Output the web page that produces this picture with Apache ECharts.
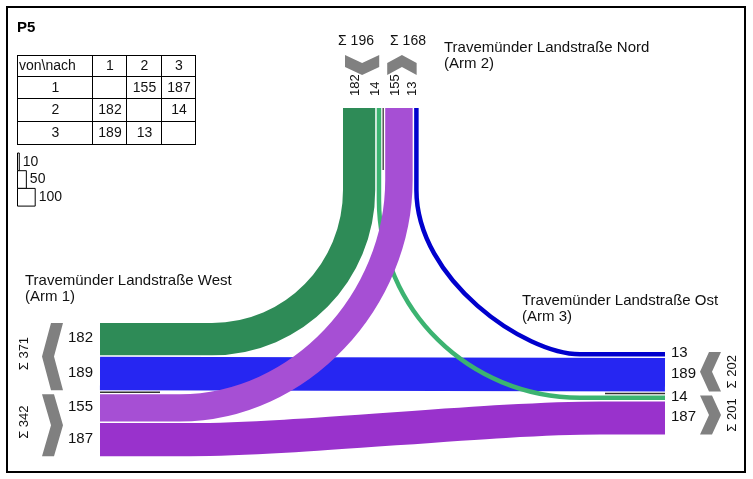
<!DOCTYPE html>
<html><head><meta charset="utf-8">
<script src="https://cdn.jsdelivr.net/npm/echarts@6/dist/echarts.min.js"></script>
<style>html,body{margin:0;padding:0;background:#fff}#c{width:753px;height:479px}</style>
</head><body><div id="c"></div>
<script>
// ---------------- data ----------------
const title = 'P5';
const tableCorner = 'von\\nach';
const armIds = ['1', '2', '3'];
const armNames = ['Travemünder Landstraße West', 'Travemünder Landstraße Nord', 'Travemünder Landstraße Ost'];
const armSubNames = ['(Arm 1)', '(Arm 2)', '(Arm 3)'];
const flowFrom = ['1', '1', '2', '2', '3', '3'];
const flowTo = ['2', '3', '1', '3', '1', '2'];
const flowVolume = [155, 187, 182, 14, 189, 13];
const scaleSteps = [10, 50, 100];

// ---------------- styles / layout ----------------
const FONT = '"Liberation Sans", Arial, sans-serif';
const flowColor = { '1-2': '#a64fd4', '1-3': '#9932cc', '2-1': '#2e8b57', '2-3': '#3cb371', '3-1': '#2626f2', '3-2': '#0000cd' };
const drawOrder = ['3-1', '2-3', '1-2', '2-1', '3-2', '1-3'];
const K = 0.177, MINW = 4.5, GAP_IN = 1.5, GAP_GRP = 4;
const WX = 100, NY = 108, EX = 665;
const arms = {
  '1': { side: 'W', pos: WX, start: 323, groups: [{ kind: 'to', others: ['2', '3'] }, { kind: 'from', others: ['2', '3'] }], name: [25, 281] },
  '2': { side: 'N', pos: NY, start: 343, groups: [{ kind: 'from', others: ['1', '3'] }, { kind: 'to', others: ['1', '3'] }], name: [444, 48] },
  '3': { side: 'E', pos: EX, start: 352, groups: [{ kind: 'from', others: ['2', '1'] }, { kind: 'to', others: ['2', '1'] }], name: [522, 301] }
};
const routes = {
  '2-1': (n, w) => [['M', [n, NY]], ['L', [n, 190]], ['C', [n, 272], [294, w], [212, w]], ['L', [WX, w]]],
  '2-3': (n, e) => [['M', [n, NY]], ['L', [n, 200]], ['C', [n, 309], [469, e], [580, e]], ['L', [EX, e]]],
  '1-2': (w, n) => [['M', [WX, w]], ['L', [180, w]], ['C', [300, w], [n, 300], [n, 180]], ['L', [n, NY]]],
  '3-2': (e, n) => [['M', [EX, e]], ['L', [580, e]], ['C', [525, e], [n, 280], [n, 190]], ['L', [n, NY]]],
  '3-1': (e, w) => [['M', [EX, e]], ['L', [WX, w]]],
  '1-3': (w, e) => [['M', [WX, w]], ['L', [190, w]], ['C', [300, w], [490, e], [600, e]], ['L', [EX, e]]]
};

function vol(f, t) {
  for (let i = 0; i < flowFrom.length; i++) if (flowFrom[i] === f && flowTo[i] === t) return flowVolume[i];
  return null;
}
const bandW = v => Math.max(v * K, MINW);

// band positions per arm
const bandCenter = {};
const groupInfo = [];
armIds.forEach(id => {
  const A = arms[id];
  let p = A.start;
  A.groups.forEach((g, gi) => {
    if (gi > 0) p += GAP_GRP;
    const a = p, bands = [];
    let sum = 0;
    g.others.forEach((o, oi) => {
      if (oi > 0) p += GAP_IN;
      const f = g.kind === 'to' ? o : id, t = g.kind === 'to' ? id : o;
      const v = vol(f, t), w = bandW(v);
      bands.push({ v, c: p + w / 2 });
      bandCenter[id + '|' + f + '-' + t] = p + w / 2;
      p += w; sum += v;
    });
    groupInfo.push({ arm: id, gi, kind: g.kind, a, b: p, sum, bands, sumPos: (a + p) / 2 });
  });
});
// spread north sums so they do not collide
(function () {
  const ng = groupInfo.filter(g => arms[g.arm].side === 'N');
  const mid = (ng[0].sumPos + ng[1].sumPos) / 2, d = Math.max(52, ng[1].sumPos - ng[0].sumPos);
  ng[0].sumPos = mid - d / 2; ng[1].sumPos = mid + d / 2;
})();

function renderFlow(params, api) {
  const i = api.value(0);
  const key = flowFrom[i] + '-' + flowTo[i];
  const s = bandCenter[flowFrom[i] + '|' + key];
  const e = bandCenter[flowTo[i] + '|' + key];
  let d = '';
  routes[key](s, e).forEach(seg => {
    d += seg[0] + seg.slice(1).map(p => api.coord(p).join(' ')).join(' ') + ' ';
  });
  const w = api.size([bandW(flowVolume[i]), 0])[0];
  return { type: 'path', shape: { pathData: d }, style: { fill: 'none', stroke: flowColor[key], lineWidth: w, lineCap: 'butt', lineJoin: 'round' } };
}

function txt(x, y, text, size, align, rot, extra) {
  return Object.assign({ type: 'text', x, y, rotation: rot || 0,
    style: { text: String(text), fill: '#111', fontSize: size, fontFamily: FONT, align: align || 'left', verticalAlign: 'middle' } }, extra || {});
}

function renderGroup(params, api) {
  const g = groupInfo[api.value(0)];
  const A = arms[g.arm];
  const ch = [];
  const pointOut = g.kind === 'to';
  const T = 12;
  let pts;
  if (A.side === 'W' || A.side === 'E') {
    const xl = A.side === 'W' ? A.pos - 58 : A.pos + 35, xr = xl + 21;
    const ya = g.a, yb = g.b, mid = (ya + yb) / 2;
    const left = (A.side === 'W') === pointOut;
    pts = left
      ? [[xr - T, ya], [xr, ya], [xl + T, mid], [xr, yb], [xr - T, yb], [xl, mid]]
      : [[xl, ya], [xl + T, ya], [xr, mid], [xl + T, yb], [xl, yb], [xr - T, mid]];
    const sx = A.side === 'W' ? A.pos - 76 : A.pos + 67;
    const sy = A.side === 'W' ? g.sumPos - 3 : g.sumPos;
    ch.push(txt(sx, sy, 'Σ ' + g.sum, 13, 'center', Math.PI / 2));
    const lx = A.side === 'W' ? A.pos - 32 : A.pos + 6;
    g.bands.forEach(b => ch.push(txt(lx, b.c - 1, b.v, 15, 'left')));
    if (g.gi === 1) {
      const y = g.a - GAP_GRP / 2;
      const x2 = A.side === 'W' ? A.pos + 60 : A.pos - 60;
      ch.push({ type: 'line', shape: { x1: api.coord([A.pos, y])[0], y1: api.coord([A.pos, y])[1], x2: api.coord([x2, y])[0], y2: api.coord([x2, y])[1] }, style: { stroke: '#333', lineWidth: 1.5 } });
    }
  } else {
    const xa = g.a + 2, xb = g.b - 2, mid = (xa + xb) / 2;
    const yt = A.pos - 53, yb = A.pos - 33;
    pts = pointOut
      ? [[xa, yb], [mid, yt + T], [xb, yb], [xb, yb - T], [mid, yt], [xa, yb - T]]
      : [[xa, yt], [mid, yb - T], [xb, yt], [xb, yt + T], [mid, yb], [xa, yt + T]];
    ch.push(txt(g.sumPos, A.pos - 67, 'Σ ' + g.sum, 14, 'center'));
    g.bands.forEach(b => ch.push(txt(b.c - 4, A.pos - 12, b.v, 13, 'left', Math.PI / 2)));
    if (g.gi === 1) {
      const x = g.a - GAP_GRP / 2;
      ch.push({ type: 'line', shape: { x1: x, y1: A.pos, x2: x, y2: A.pos + 62 }, style: { stroke: '#555', lineWidth: 1.5 } });
    }
  }
  ch.unshift({ type: 'polygon', shape: { points: pts.map(p => api.coord(p)) }, style: { fill: '#808080' } });
  return { type: 'group', children: ch };
}

// ---------------- static graphics: frame, title, table, scale, names ----------------
const graphics = [];
graphics.push({ type: 'rect', shape: { x: 7, y: 7, width: 738, height: 465 }, style: { fill: 'none', stroke: '#000', lineWidth: 2 } });
graphics.push({ type: 'text', x: 17, y: 28, style: { text: title, fontSize: 15, fontWeight: 'bold', fontFamily: FONT, fill: '#000', verticalAlign: 'middle' } });
const colX = [17, 92, 126, 161, 195], rowY = [55, 76, 98, 121, 144];
colX.forEach(x => graphics.push({ type: 'line', shape: { x1: x + 0.5, y1: rowY[0], x2: x + 0.5, y2: rowY[4] + 1 }, style: { stroke: '#000', lineWidth: 1 } }));
rowY.forEach(y => graphics.push({ type: 'line', shape: { x1: colX[0], y1: y + 0.5, x2: colX[4] + 1, y2: y + 0.5 }, style: { stroke: '#000', lineWidth: 1 } }));
const cellMid = (arr, i) => (arr[i] + arr[i + 1]) / 2 + 1;
graphics.push(txt(19, cellMid(rowY, 0), tableCorner, 14, 'left'));
armIds.forEach((id, j) => graphics.push(txt(cellMid(colX, j + 1), cellMid(rowY, 0), id, 14, 'center')));
armIds.forEach((f, i) => {
  graphics.push(txt(cellMid(colX, 0), cellMid(rowY, i + 1), f, 14, 'center'));
  armIds.forEach((t, j) => {
    const v = vol(f, t);
    if (v != null) graphics.push(txt(cellMid(colX, j + 1), cellMid(rowY, i + 1), v, 14, 'center'));
  });
});
let sy = 153;
scaleSteps.forEach(s => {
  const w = s * K, h = 100 * K;
  graphics.push({ type: 'rect', shape: { x: 17.5, y: sy, width: w, height: h }, style: { fill: '#fff', stroke: '#000', lineWidth: 1 } });
  graphics.push(txt(17 + w + 4, sy + h / 2, s, 14, 'left'));
  sy += h;
});
armIds.forEach((id, i) => {
  const [x, y] = arms[id].name;
  graphics.push(txt(x, y, armNames[i], 15, 'left'));
  graphics.push(txt(x, y + 16, armSubNames[i], 15, 'left'));
});

const chart = echarts.init(document.getElementById('c'));
chart.setOption({
  animation: false,
  backgroundColor: '#fff',
  grid: { left: 0, right: 0, top: 0, bottom: 0 },
  xAxis: { type: 'value', min: 0, max: 753, show: false },
  yAxis: { type: 'value', min: 0, max: 479, inverse: true, show: false },
  graphic: graphics,
  series: [
    { type: 'custom', coordinateSystem: 'cartesian2d', clip: false, silent: true, renderItem: renderFlow,
      encode: { x: 0, y: 1 },
      data: drawOrder.map(k => [flowFrom.findIndex((f, i) => f + '-' + flowTo[i] === k), 0]) },
    { type: 'custom', coordinateSystem: 'cartesian2d', clip: false, silent: true, renderItem: renderGroup,
      encode: { x: 0, y: 1 }, z: 3,
      data: groupInfo.map((g, i) => [i, 0]) }
  ]
});
</script>
</body></html>
